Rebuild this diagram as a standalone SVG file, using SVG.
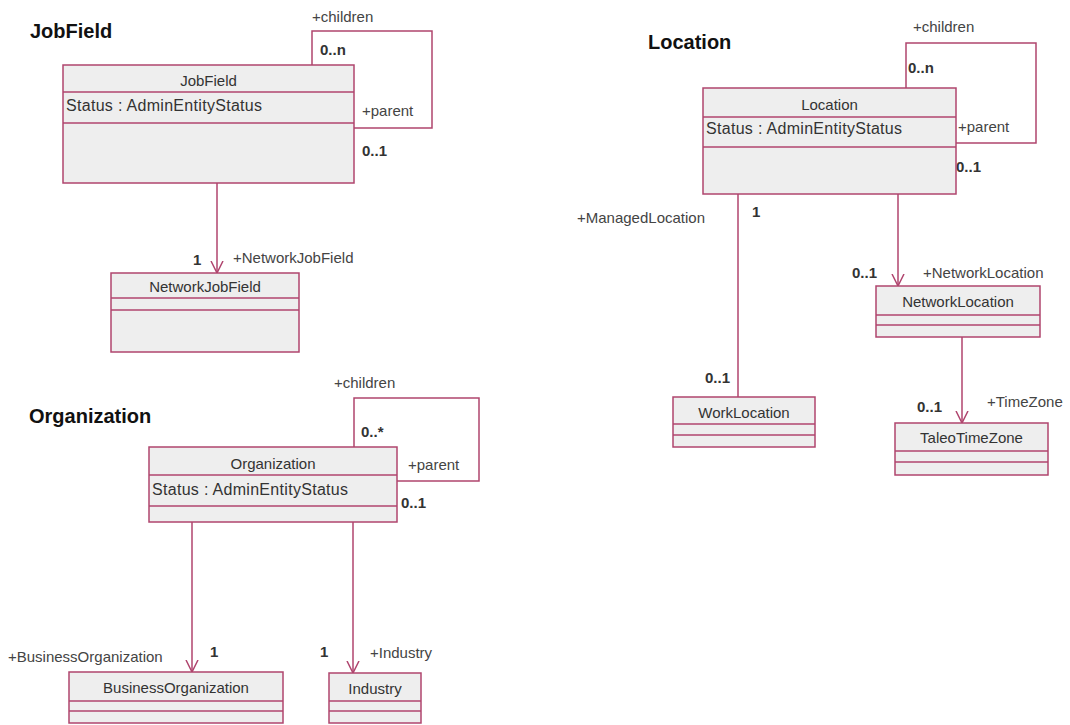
<svg xmlns="http://www.w3.org/2000/svg" width="1070" height="725" viewBox="0 0 1070 725">
<style>
.box{fill:#eeeeee;stroke:#b0456e;stroke-width:1.5}
.sep{stroke:#b0456e;stroke-width:1.5}
.ln{fill:none;stroke:#b0456e;stroke-width:1.5}
.title{font-family:"Liberation Sans",Arial,sans-serif;font-size:20px;font-weight:bold;fill:#111}
.cn{font-family:"Liberation Sans",Arial,sans-serif;font-size:15px;fill:#333;text-anchor:middle}
.attr{font-family:"Liberation Sans",Arial,sans-serif;font-size:16px;fill:#333;letter-spacing:0.3px}
.lbl{font-family:"Liberation Sans",Arial,sans-serif;font-size:15px;fill:#444}
.mul{font-family:"Liberation Sans",Arial,sans-serif;font-size:15px;font-weight:bold;fill:#333}
</style>
<defs>
<marker id="open" viewBox="0 0 12 14" refX="12" refY="7" markerWidth="12" markerHeight="14" markerUnits="userSpaceOnUse" orient="auto">
<path d="M0,1 L12,7 L0,13" fill="none" stroke="#b0456e" stroke-width="1.5"/>
</marker>
</defs>
<rect width="1070" height="725" fill="#ffffff"/>
<text class="title" x="30" y="38">JobField</text>
<text class="title" x="29" y="423">Organization</text>
<text class="title" x="648" y="49">Location</text>
<g id="connectors">
<polyline class="ln" points="312,65 312,31 432,31 432,128 354,128"/>
<line class="ln" x1="217" y1="183" x2="217" y2="273" marker-end="url(#open)"/>
<polyline class="ln" points="354,447 354,398 479,398 479,481 397,481"/>
<line class="ln" x1="192" y1="522" x2="192" y2="672" marker-end="url(#open)"/>
<line class="ln" x1="353" y1="522" x2="353" y2="673" marker-end="url(#open)"/>
<polyline class="ln" points="906,88 906,43 1036,43 1036,143 956,143"/>
<line class="ln" x1="738" y1="194" x2="738" y2="397"/>
<line class="ln" x1="898" y1="194" x2="898" y2="286" marker-end="url(#open)"/>
<line class="ln" x1="962" y1="337" x2="962" y2="423" marker-end="url(#open)"/>
<text class="lbl" x="312" y="22">+children</text>
<text class="mul" x="320" y="55">0..n</text>
<text class="lbl" x="362" y="116">+parent</text>
<text class="mul" x="362" y="156">0..1</text>
<text class="mul" x="193" y="265">1</text>
<text class="lbl" x="233" y="263">+NetworkJobField</text>
<text class="lbl" x="334" y="388">+children</text>
<text class="mul" x="361" y="437">0..*</text>
<text class="lbl" x="408" y="470">+parent</text>
<text class="mul" x="401" y="508">0..1</text>
<text class="lbl" x="8" y="662">+BusinessOrganization</text>
<text class="mul" x="210" y="657">1</text>
<text class="mul" x="320" y="657">1</text>
<text class="lbl" x="370" y="658">+Industry</text>
<text class="lbl" x="913" y="32">+children</text>
<text class="mul" x="908" y="73">0..n</text>
<text class="lbl" x="958" y="132">+parent</text>
<text class="mul" x="956" y="172">0..1</text>
<text class="mul" x="752" y="217">1</text>
<text class="lbl" x="577" y="223">+ManagedLocation</text>
<text class="mul" x="705" y="383">0..1</text>
<text class="mul" x="852" y="278">0..1</text>
<text class="lbl" x="923" y="278">+NetworkLocation</text>
<text class="mul" x="917" y="412">0..1</text>
<text class="lbl" x="987" y="407">+TimeZone</text>
</g>
<g id="JobField">
<rect class="box" x="63" y="65" width="291" height="118"/>
<line class="sep" x1="63" y1="92" x2="354" y2="92"/>
<line class="sep" x1="63" y1="123" x2="354" y2="123"/>
<text class="cn" x="208.5" y="86">JobField</text>
<text class="attr" x="66" y="111">Status : AdminEntityStatus</text>
</g>
<g id="NetworkJobField">
<rect class="box" x="111" y="273" width="188" height="79"/>
<line class="sep" x1="111" y1="298" x2="299" y2="298"/>
<line class="sep" x1="111" y1="310" x2="299" y2="310"/>
<text class="cn" x="205" y="292">NetworkJobField</text>
</g>
<g id="Organization">
<rect class="box" x="149" y="447" width="248" height="75"/>
<line class="sep" x1="149" y1="475" x2="397" y2="475"/>
<line class="sep" x1="149" y1="506" x2="397" y2="506"/>
<text class="cn" x="273" y="469">Organization</text>
<text class="attr" x="152" y="495">Status : AdminEntityStatus</text>
</g>
<g id="BusinessOrganization">
<rect class="box" x="69" y="672" width="214" height="51"/>
<line class="sep" x1="69" y1="701" x2="283" y2="701"/>
<line class="sep" x1="69" y1="711" x2="283" y2="711"/>
<text class="cn" x="176" y="693">BusinessOrganization</text>
</g>
<g id="Industry">
<rect class="box" x="329" y="673" width="92" height="50"/>
<line class="sep" x1="329" y1="701" x2="421" y2="701"/>
<line class="sep" x1="329" y1="711" x2="421" y2="711"/>
<text class="cn" x="375" y="694">Industry</text>
</g>
<g id="Location">
<rect class="box" x="703" y="88" width="253" height="106"/>
<line class="sep" x1="703" y1="117" x2="956" y2="117"/>
<line class="sep" x1="703" y1="147" x2="956" y2="147"/>
<text class="cn" x="829.5" y="110">Location</text>
<text class="attr" x="706" y="134">Status : AdminEntityStatus</text>
</g>
<g id="WorkLocation">
<rect class="box" x="673" y="397" width="142" height="50"/>
<line class="sep" x1="673" y1="424" x2="815" y2="424"/>
<line class="sep" x1="673" y1="435" x2="815" y2="435"/>
<text class="cn" x="744" y="418">WorkLocation</text>
</g>
<g id="NetworkLocation">
<rect class="box" x="876" y="286" width="164" height="51"/>
<line class="sep" x1="876" y1="315" x2="1040" y2="315"/>
<line class="sep" x1="876" y1="325" x2="1040" y2="325"/>
<text class="cn" x="958" y="307">NetworkLocation</text>
</g>
<g id="TaleoTimeZone">
<rect class="box" x="895" y="423" width="153" height="52"/>
<line class="sep" x1="895" y1="451" x2="1048" y2="451"/>
<line class="sep" x1="895" y1="462" x2="1048" y2="462"/>
<text class="cn" x="971.5" y="443">TaleoTimeZone</text>
</g>
</svg>
